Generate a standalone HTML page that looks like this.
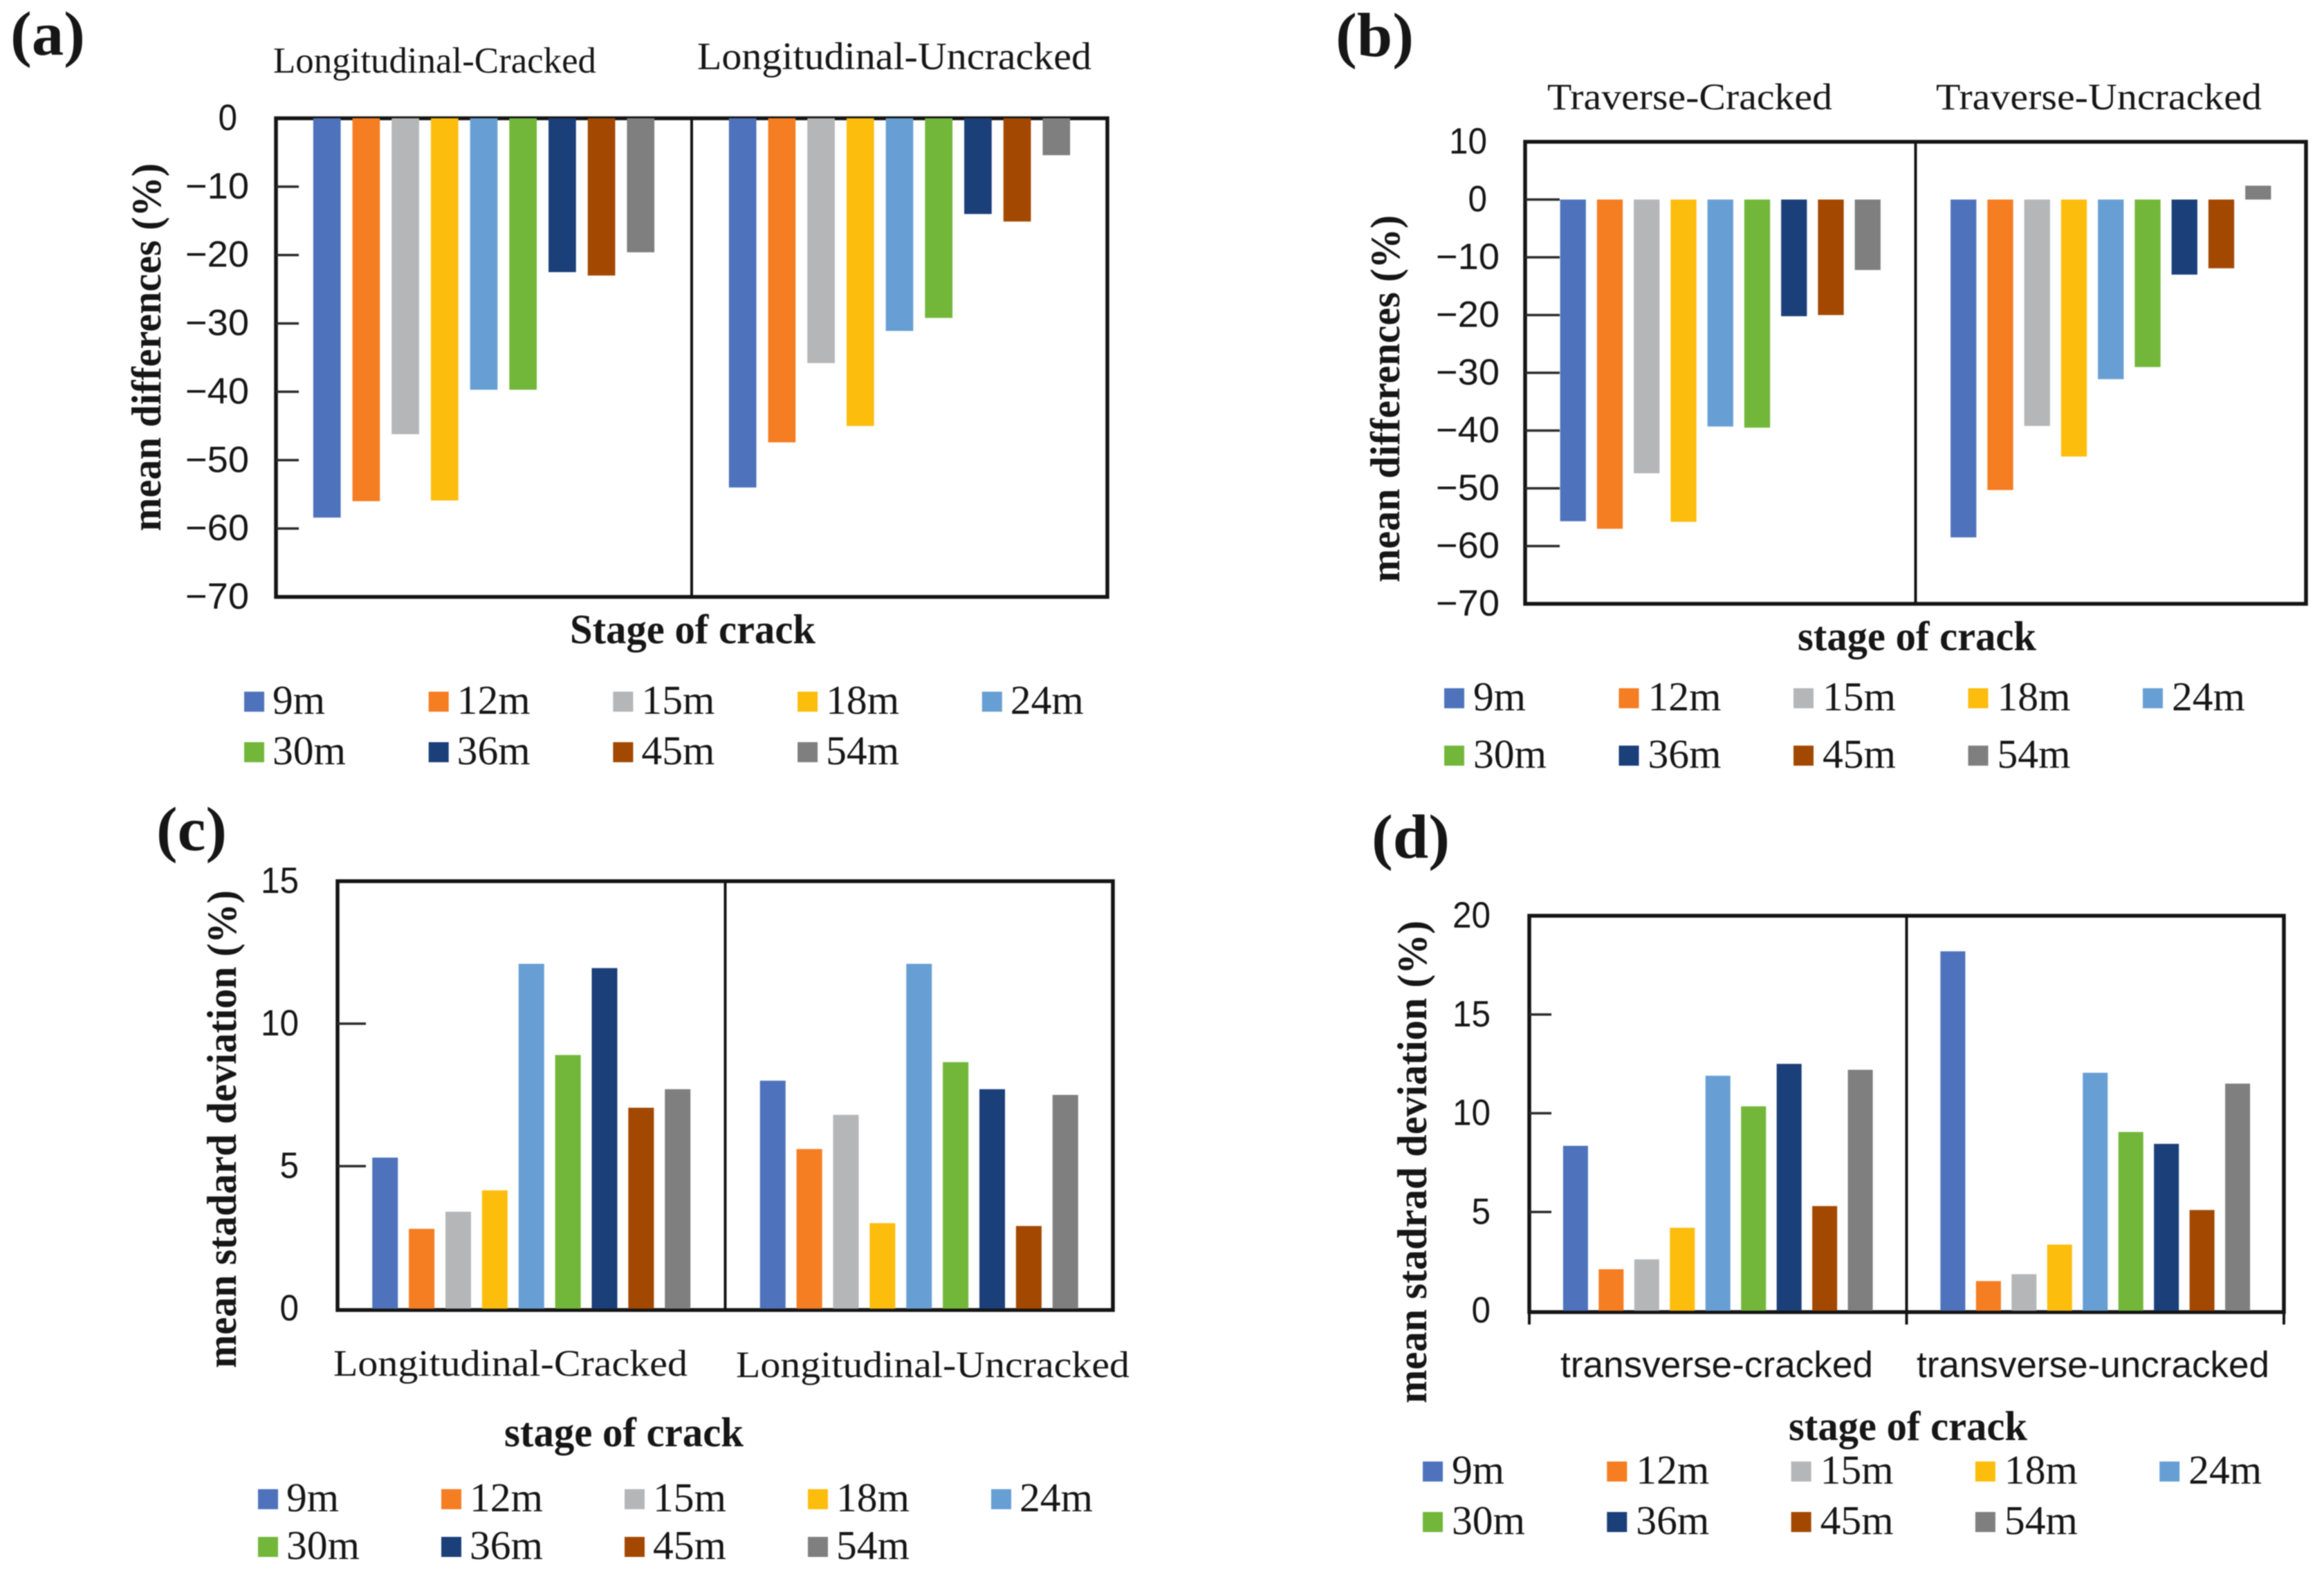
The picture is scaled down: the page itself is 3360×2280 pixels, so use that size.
<!DOCTYPE html>
<html lang="en">
<head>
<meta charset="utf-8">
<title>Mean differences and standard deviation by stage of crack</title>
<style>
  html, body { margin: 0; padding: 0; background: #ffffff; }
  body { width: 3360px; height: 2280px; overflow: hidden; }
  svg { display: block; filter: blur(0.9px); }
  text { fill: #161616; }
  .serif { font-family: "Liberation Serif", serif; }
  .bold { font-family: "Liberation Serif", serif; font-weight: 700; }
  .sans { font-family: "Liberation Sans", sans-serif; }
  .frame { fill: none; stroke: #141414; stroke-width: 5.5; }
  .divider { stroke: #141414; stroke-width: 4; }
</style>
</head>
<body>
<svg id="figure" xmlns="http://www.w3.org/2000/svg" width="3360" height="2280" viewBox="0 0 3360 2280">
  <rect width="3360" height="2280" fill="#ffffff"/>

  <g id="panel-a">
    <text class="bold" x="15" y="79" font-size="90" textLength="108" lengthAdjust="spacingAndGlyphs">(a)</text>
    <text class="serif" x="395" y="105" font-size="53" textLength="467" lengthAdjust="spacingAndGlyphs">Longitudinal-Cracked</text>
    <text class="serif" x="1008" y="100" font-size="56" textLength="570" lengthAdjust="spacingAndGlyphs">Longitudinal-Uncracked</text>
    <text class="bold" transform="translate(232,768) rotate(-90)" font-size="60" textLength="532" lengthAdjust="spacingAndGlyphs">mean  differences (%)</text>
    <text class="bold" x="824" y="930" font-size="60" textLength="355" lengthAdjust="spacingAndGlyphs">Stage of crack</text>
  </g>

  <g id="panel-b">
    <text class="bold" x="1931" y="81" font-size="90" textLength="113" lengthAdjust="spacingAndGlyphs">(b)</text>
    <text class="serif" x="2237" y="158" font-size="54" textLength="412" lengthAdjust="spacingAndGlyphs">Traverse-Cracked</text>
    <text class="serif" x="2799" y="158" font-size="54" textLength="471" lengthAdjust="spacingAndGlyphs">Traverse-Uncracked</text>
    <text class="bold" transform="translate(2023,842) rotate(-90)" font-size="60" textLength="531" lengthAdjust="spacingAndGlyphs">mean  differences (%)</text>
    <text class="bold" x="2599" y="940" font-size="60" textLength="345" lengthAdjust="spacingAndGlyphs">stage of crack</text>
  </g>

  <g id="panel-c">
    <text class="bold" x="226" y="1229" font-size="90" textLength="102" lengthAdjust="spacingAndGlyphs">(c)</text>
    <text class="bold" transform="translate(341,1978) rotate(-90)" font-size="60" textLength="691" lengthAdjust="spacingAndGlyphs">mean  stadard  deviation (%)</text>
    <text class="serif" x="482" y="1989" font-size="54" textLength="512" lengthAdjust="spacingAndGlyphs">Longitudinal-Cracked</text>
    <text class="serif" x="1064" y="1991" font-size="54" textLength="569" lengthAdjust="spacingAndGlyphs">Longitudinal-Uncracked</text>
    <text class="bold" x="729" y="2091" font-size="60" textLength="346" lengthAdjust="spacingAndGlyphs">stage of crack</text>
  </g>

  <g id="panel-d">
    <text class="bold" x="1983" y="1240" font-size="90" textLength="113" lengthAdjust="spacingAndGlyphs">(d)</text>
    <text class="bold" transform="translate(2062,2029) rotate(-90)" font-size="60" textLength="698" lengthAdjust="spacingAndGlyphs">mean  stadrad  deviation (%)</text>
    <text class="sans" x="2256" y="1991" font-size="53" textLength="452" lengthAdjust="spacingAndGlyphs">transverse-cracked</text>
    <text class="sans" x="2771" y="1991" font-size="53" textLength="510" lengthAdjust="spacingAndGlyphs">transverse-uncracked</text>
    <text class="bold" x="2586" y="2082" font-size="60" textLength="345" lengthAdjust="spacingAndGlyphs">stage of crack</text>
  </g>
</svg>

<script>
// ---- chart data ----
const seriesNames = ['9m', '12m', '15m', '18m', '24m', '30m', '36m', '45m', '54m'];
const seriesColors = ['#4E73BC', '#F57D22', '#B5B6B8', '#FDBD0D', '#679FD4', '#72B73A', '#1A3F79', '#A34800', '#7F7F7F'];

const panelACracked = [-58.4, -56, -46.2, -55.9, -39.7, -39.7, -22.5, -23, -19.6];
const panelAUncracked = [-54, -47.4, -35.8, -45, -31.1, -29.2, -14, -15.1, -5.4];
const panelATicks = [0, -10, -20, -30, -40, -50, -60, -70];

const panelBCracked = [-55.7, -57, -47.4, -55.8, -39.3, -39.5, -20.2, -20, -12.2];
const panelBUncracked = [-58.5, -50.3, -39.2, -44.5, -31.1, -29, -13, -11.9, 2.4];
const panelBTicks = [10, 0, -10, -20, -30, -40, -50, -60, -70];

const panelCCracked = [5.3, 2.8, 3.4, 4.15, 12.1, 8.9, 11.95, 7.05, 7.7];
const panelCUncracked = [8, 5.6, 6.8, 3, 12.1, 8.65, 7.7, 2.9, 7.5];
const panelCTicks = [15, 10, 5, 0];

const panelDCracked = [8.35, 2.1, 2.6, 4.2, 11.9, 10.35, 12.5, 5.3, 12.2];
const panelDUncracked = [18.2, 1.5, 1.85, 3.35, 12.05, 9.05, 8.45, 5.1, 11.5];
const panelDTicks = [20, 15, 10, 5, 0];

// ---- layout ----
const NS = 'http://www.w3.org/2000/svg';
const GAP_UNITS = 10.6;
const BAR_FRACTION = 0.7;

const panels = [
  { id: 'a', groups: [panelACracked, panelAUncracked], ticks: panelATicks,
    left: 399, right: 1601, top: 171, bottom: 863,
    domain: [-70, 0], range: [863, 171],
    tickLen: 33, tickSkip: [0, -70], labelPos: 360, labelNonNeg: 343,
    legendX: 353, legendStep: 266.7, legendRows: [1014, 1087], legendOffset: 41, axisTicks: false },
  { id: 'b', groups: [panelBCracked, panelBUncracked], ticks: panelBTicks,
    left: 2205, right: 3334, top: 205, bottom: 873,
    domain: [-70, 10], range: [873, 205],
    tickLen: 50, tickSkip: [10, -70], labelPos: 2168, labelNonNeg: 2150,
    legendX: 2088, legendStep: 252.5, legendRows: [1009, 1092], legendOffset: 42, axisTicks: false },
  { id: 'c', groups: [panelCCracked, panelCUncracked], ticks: panelCTicks,
    left: 488, right: 1609, top: 1274, bottom: 1894,
    domain: [0, 15], range: [1892, 1274],
    tickLen: 41, tickSkip: [15, 0], labelPos: 432, labelNonNeg: 432,
    legendX: 373, legendStep: 265, legendRows: [2167, 2236], legendOffset: 41, axisTicks: false },
  { id: 'd', groups: [panelDCracked, panelDUncracked], ticks: panelDTicks,
    left: 2211, right: 3302, top: 1324, bottom: 1897,
    domain: [0, 20], range: [1895, 1324],
    tickLen: 32, tickSkip: [20, 0], labelPos: 2155, labelNonNeg: 2155,
    legendX: 2057, legendStep: 266.3, legendRows: [2127, 2200], legendOffset: 42, axisTicks: true }
];

function yScale(p, v) {
  const t = (v - p.domain[0]) / (p.domain[1] - p.domain[0]);
  return p.range[0] + t * (p.range[1] - p.range[0]);
}

function bandScale(p, groupIndex, seriesIndex, count) {
  const band = (p.right - p.left) / p.groups.length;
  const pitch = band / GAP_UNITS;
  const width = pitch * BAR_FRACTION;
  const margin = (band - pitch * (count - 1) - width) / 2;
  return { x: p.left + groupIndex * band + margin + seriesIndex * pitch, width: width };
}

panels.forEach(function (p) {
  const root = document.getElementById('panel-' + p.id);
  const midX = (p.left + p.right) / 2;

  // plot frame
  const frame = document.createElementNS(NS, 'rect');
  
  
  frame.setAttribute('class', 'frame');
  frame.setAttribute('x', p.left);
  frame.setAttribute('y', p.top);
  frame.setAttribute('width', p.right - p.left);
  frame.setAttribute('height', p.bottom - p.top);
  root.appendChild(frame);

  // divider between the two categories
  const divider = document.createElementNS(NS, 'line');
  
  
  divider.setAttribute('class', 'divider');
  divider.setAttribute('x1', midX);
  divider.setAttribute('x2', midX);
  divider.setAttribute('y1', p.top);
  divider.setAttribute('y2', p.axisTicks ? p.bottom + 18 : p.bottom);
  root.appendChild(divider);

  // category tick marks under the x axis (panel d only)
  if (p.axisTicks) {
    [p.left, p.right].forEach(function (x) {
      const mark = document.createElementNS(NS, 'line');
      
      
      mark.setAttribute('class', 'divider');
      mark.setAttribute('x1', x);
      mark.setAttribute('x2', x);
      mark.setAttribute('y1', p.bottom);
      mark.setAttribute('y2', p.bottom + 18);
      root.appendChild(mark);
    });
  }

  // y ticks and labels
  p.ticks.forEach(function (v) {
    const y = yScale(p, v);
    if (p.tickSkip.indexOf(v) === -1) {
      const tick = document.createElementNS(NS, 'line');
      
      
      tick.setAttribute('stroke', '#2a2a2a');
      tick.setAttribute('stroke-width', '3.5');
      tick.setAttribute('x1', p.left);
      tick.setAttribute('x2', p.left + p.tickLen);
      tick.setAttribute('y1', y);
      tick.setAttribute('y2', y);
      root.appendChild(tick);
    }
    const digits = String(Math.abs(v));
    const neg = v < 0;
    const label = document.createElementNS(NS, 'text');
    
    
    label.setAttribute('class', 'sans');
    label.setAttribute('font-size', '53');
    label.setAttribute('text-anchor', 'end');
    label.setAttribute('x', neg ? p.labelPos : p.labelNonNeg);
    label.setAttribute('y', y + 17);
    label.setAttribute('textLength', digits.length * 27.5 + (neg ? 37 : 0));
    label.setAttribute('lengthAdjust', 'spacingAndGlyphs');
    label.textContent = (neg ? '\u2212' : '') + digits;
    root.appendChild(label);
  });

  // bars
  p.groups.forEach(function (values, g) {
    values.forEach(function (v, s) {
      const band = bandScale(p, g, s, values.length);
      const yA = yScale(p, Math.max(v, 0));
      const yB = yScale(p, Math.min(v, 0));
      const bar = document.createElementNS(NS, 'rect');
      
      
      bar.setAttribute('x', band.x);
      bar.setAttribute('y', yA);
      bar.setAttribute('width', band.width);
      bar.setAttribute('height', yB - yA);
      bar.setAttribute('fill', seriesColors[s]);
      root.appendChild(bar);
    });
  });

  // legend
  seriesNames.forEach(function (name, i) {
    const col = i < 5 ? i : i - 5;
    const rowY = p.legendRows[i < 5 ? 0 : 1];
    const x = p.legendX + col * p.legendStep;
    const swatch = document.createElementNS(NS, 'rect');
    
    
    swatch.setAttribute('x', x);
    swatch.setAttribute('y', rowY - 14);
    swatch.setAttribute('width', 29);
    swatch.setAttribute('height', 29);
    swatch.setAttribute('fill', seriesColors[i]);
    root.appendChild(swatch);

    const text = document.createElementNS(NS, 'text');
    
    
    text.setAttribute('class', 'serif');
    text.setAttribute('font-size', '59');
    text.setAttribute('x', x + p.legendOffset);
    text.setAttribute('y', rowY + 18);
    text.setAttribute('textLength', name.length === 2 ? 76 : 106);
    text.setAttribute('lengthAdjust', 'spacingAndGlyphs');
    text.textContent = name;
    root.appendChild(text);
  });
});
</script>
</body>
</html>
